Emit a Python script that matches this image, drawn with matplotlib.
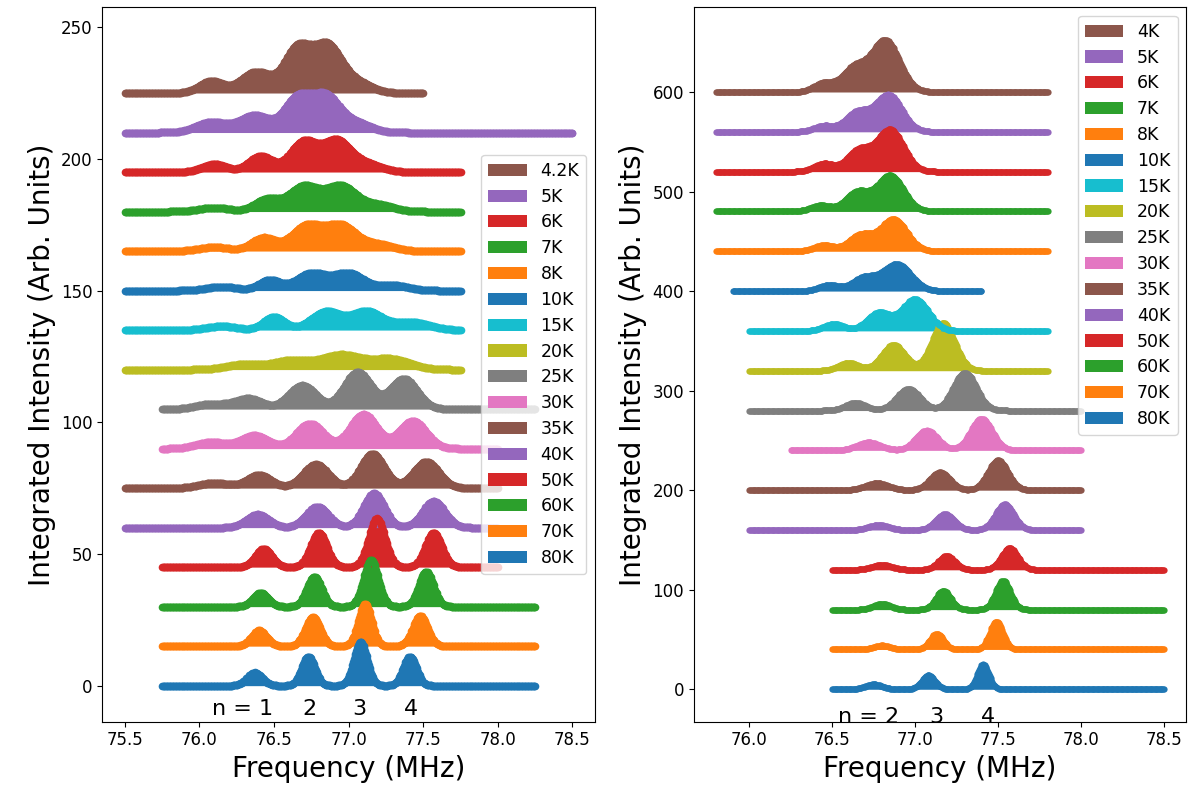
import numpy as np
import matplotlib.pyplot as plt

# left panel: spectra from bottom (80K) to top (4.2K), 15 units apart
left_temps = ['80K', '70K', '60K', '50K', '40K', '35K', '30K', '25K',
              '20K', '15K', '10K', '8K', '7K', '6K', '5K', '4.2K']
left_offsets = [0, 15, 30, 45, 60, 75, 90, 105, 120, 135, 150, 165, 180, 195, 210, 225]
left_start = [75.75, 75.75, 75.75, 75.75, 75.5, 75.5, 75.75, 75.75,
              75.5, 75.5, 75.5, 75.5, 75.5, 75.5, 75.5, 75.5]
left_end = [78.25, 78.25, 78.25, 78.0, 78.0, 78.0, 78.0, 78.25,
            77.75, 77.75, 77.75, 77.75, 77.75, 77.75, 78.5, 77.5]
left_centers = [
    [76.37, 76.73, 77.08, 77.41],
    [76.40, 76.76, 77.11, 77.48],
    [76.41, 76.77, 77.15, 77.52],
    [76.43, 76.80, 77.19, 77.57],
    [76.39, 76.79, 77.17, 77.57],
    [76.10, 76.40, 76.78, 77.16, 77.52],
    [76.08, 76.37, 76.74, 77.10, 77.43],
    [76.08, 76.33, 76.69, 77.06, 77.37],
    [76.30, 76.62, 76.95, 77.28],
    [76.15, 76.50, 76.85, 77.12, 77.42],
    [76.15, 76.47, 76.75, 77.00, 77.30],
    [76.10, 76.43, 76.72, 76.95, 77.20],
    [76.10, 76.45, 76.70, 76.95, 77.20],
    [76.10, 76.41, 76.70, 76.92, 77.12],
    [76.08, 76.37, 76.66, 76.85, 77.05],
    [76.08, 76.38, 76.66, 76.86, 77.05],
]
left_heights = [
    [5, 11, 16.5, 11],
    [6, 11, 16, 11.5],
    [5.3, 11.4, 17.8, 13.3],
    [7, 13, 18.5, 13],
    [5, 8, 13, 10],
    [2, 5, 9, 13, 10],
    [2.5, 5, 9.5, 13, 10.5],
    [2, 4, 9, 14, 11.5],
    [2, 3.5, 5.5, 4],
    [1.5, 5, 7, 7, 3],
    [1.5, 4, 6.5, 6.5, 2],
    [1.5, 5, 9.5, 9.5, 2.5],
    [1.5, 4.5, 9.5, 9.5, 2.5],
    [3, 6, 11.5, 11.5, 3],
    [4, 6.5, 13, 13, 3.5],
    [4.5, 8, 17, 17, 4],
]
left_widths = [
    [0.05, 0.045, 0.045, 0.045],
    [0.05, 0.05, 0.045, 0.05],
    [0.05, 0.05, 0.05, 0.05],
    [0.055, 0.055, 0.055, 0.055],
    [0.075, 0.075, 0.07, 0.075],
    [0.1, 0.08, 0.085, 0.08, 0.085],
    [0.1, 0.09, 0.09, 0.09, 0.09],
    [0.1, 0.09, 0.09, 0.09, 0.09],
    [0.12, 0.12, 0.13, 0.13],
    [0.1, 0.07, 0.1, 0.1, 0.12],
    [0.1, 0.07, 0.1, 0.1, 0.1],
    [0.1, 0.08, 0.1, 0.1, 0.1],
    [0.1, 0.08, 0.1, 0.1, 0.1],
    [0.08, 0.08, 0.09, 0.09, 0.1],
    [0.1, 0.1, 0.09, 0.09, 0.1],
    [0.08, 0.1, 0.09, 0.09, 0.1],
]
left_n_labels = ['n = 1', '2', '3', '4']
left_n_x = [76.29, 76.74, 77.07, 77.42]
left_n_y = -8.7

# right panel: spectra 40 units apart
right_temps = ['80K', '70K', '60K', '50K', '40K', '35K', '30K', '25K',
               '20K', '15K', '10K', '8K', '7K', '6K', '5K', '4K']
right_offsets = [0, 40, 80, 120, 160, 200, 240, 280, 320, 360, 400, 440, 480, 520, 560, 600]
right_start = [76.5, 76.5, 76.5, 76.5, 76.0, 76.0, 76.25, 76.0,
               76.0, 76.0, 75.9, 75.8, 75.8, 75.8, 75.8, 75.8]
right_end = [78.5, 78.5, 78.5, 78.5, 78.0, 78.0, 78.0, 78.0,
             77.8, 77.8, 77.4, 77.8, 77.8, 77.8, 77.8, 77.8]
right_centers = [
    [76.75, 77.08, 77.41],
    [76.80, 77.13, 77.49],
    [76.80, 77.17, 77.53],
    [76.80, 77.19, 77.57],
    [76.78, 77.18, 77.54],
    [76.77, 77.15, 77.50],
    [76.72, 77.07, 77.40],
    [76.64, 76.96, 77.30],
    [76.60, 76.87, 77.17],
    [76.51, 76.78, 77.00],
    [76.48, 76.69, 76.89],
    [76.45, 76.67, 76.87],
    [76.43, 76.65, 76.85],
    [76.45, 76.66, 76.85],
    [76.45, 76.65, 76.84],
    [76.45, 76.63, 76.82],
]
right_heights = [
    [5, 14, 25],
    [4, 16, 28],
    [6, 19, 29],
    [5, 14, 22],
    [5, 16, 26],
    [7, 18, 30],
    [8, 20, 32],
    [8, 22, 38],
    [8, 26, 48],
    [7, 18, 32],
    [6, 13, 27],
    [6, 16, 32],
    [6, 19, 36],
    [8, 21, 42],
    [6, 19, 37],
    [9, 23, 52],
]
right_widths = [
    [0.05, 0.04, 0.035],
    [0.05, 0.04, 0.04],
    [0.05, 0.045, 0.045],
    [0.06, 0.05, 0.05],
    [0.06, 0.055, 0.055],
    [0.07, 0.06, 0.06],
    [0.07, 0.065, 0.065],
    [0.06, 0.07, 0.07],
    [0.06, 0.07, 0.07],
    [0.06, 0.07, 0.08],
    [0.06, 0.07, 0.085],
    [0.06, 0.07, 0.08],
    [0.06, 0.07, 0.08],
    [0.06, 0.07, 0.08],
    [0.06, 0.07, 0.08],
    [0.06, 0.07, 0.085],
]
right_n_labels = ['n = 2', '3', '4']
right_n_x = [76.72, 77.13, 77.44]
right_n_y = -28


def spectrum(x, centers, heights, widths):
    y = np.zeros_like(x)
    for c, h, w in zip(centers, heights, widths):
        y += h * np.exp(-0.5 * ((x - c) / w) ** 2)
    return y


def draw_panel(ax, temps, offsets, starts, ends, centers, heights, widths, ms, legend_loc):
    for i, t in enumerate(temps):
        color = f'C{i % 10}'
        x = np.arange(starts[i], ends[i] + 0.001, 0.005)
        y = offsets[i] + spectrum(x, centers[i], heights[i], widths[i])
        ax.fill_between(x, offsets[i], y, color=color, lw=0, label=t)
        ax.plot(x, y, 'k--', lw=1.2)
        ax.plot(x, y, 'o', color=color, ms=ms, mew=0)
    handles, labels = ax.get_legend_handles_labels()
    ax.legend(handles[::-1], labels[::-1], loc=legend_loc, fontsize=12.5,
              labelspacing=0.45, handlelength=2.2)
    ax.set_xlabel('Frequency (MHz)', fontsize=20)
    ax.set_ylabel('Integrated Intensity (Arb. Units)', fontsize=20)
    ax.tick_params(labelsize=12)


fig, (ax1, ax2) = plt.subplots(1, 2, figsize=(11.91, 7.94), dpi=100)
fig.subplots_adjust(left=0.086, right=0.996, bottom=0.091, top=0.991, wspace=0.201)

draw_panel(ax1, left_temps, left_offsets, left_start, left_end,
           left_centers, left_heights, left_widths, 5.5, 'center right')
draw_panel(ax2, right_temps, right_offsets, right_start, right_end,
           right_centers, right_heights, right_widths, 4.5, 'upper right')

for lab, xv in zip(left_n_labels, left_n_x):
    ax1.text(xv, left_n_y, lab, fontsize=16, ha='center', va='center')
for lab, xv in zip(right_n_labels, right_n_x):
    ax2.text(xv, right_n_y, lab, fontsize=16, ha='center', va='center')

ax1.set_yticks([0, 50, 100, 150, 200, 250])
ax1.set_ylim(-13.7, 257.6)
ax2.set_yticks([0, 100, 200, 300, 400, 500, 600])

fig.savefig('out.png', dpi=100)
